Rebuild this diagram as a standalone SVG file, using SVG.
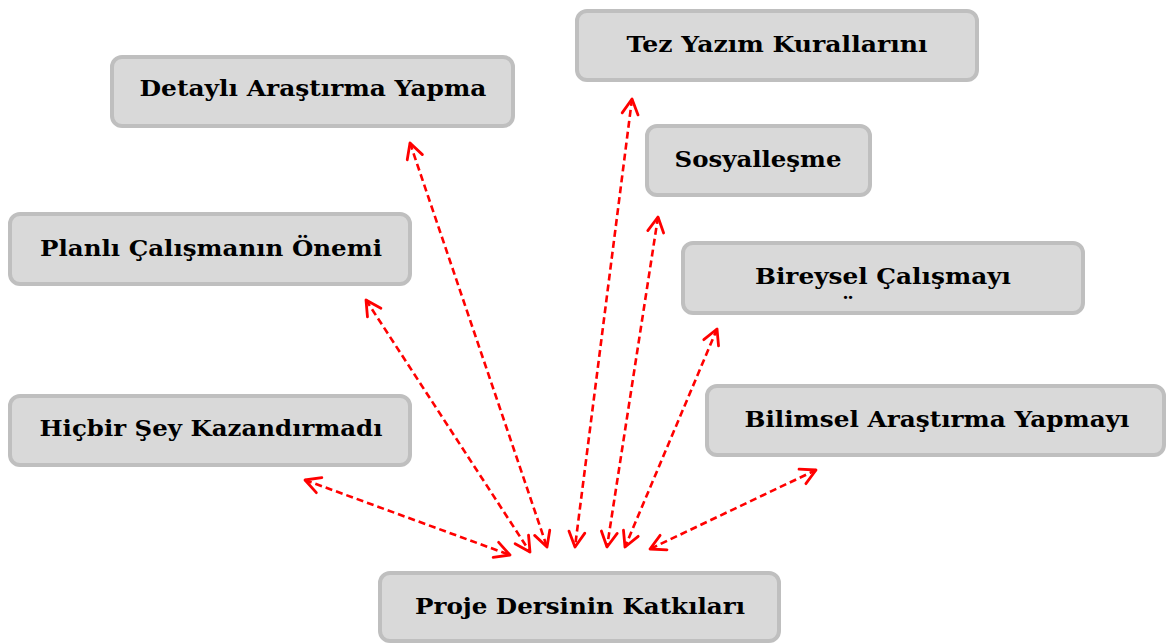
<svg xmlns="http://www.w3.org/2000/svg" width="1166" height="643" viewBox="0 0 1166 643">
<style>
.box{fill:#d9d9d9;stroke:#bfbfbf;stroke-width:4}
.t{font-family:"DejaVu Serif","Liberation Serif",serif;font-weight:bold;font-size:23px;fill:#000;text-anchor:middle}
.c{fill:none;stroke:#ff0000;stroke-width:2.6;stroke-dasharray:7 4}
</style>
<defs>
<marker id="ah" markerUnits="userSpaceOnUse" viewBox="-20 -12 24 24" refX="0" refY="0" markerWidth="24" markerHeight="24" orient="auto-start-reverse">
<path d="M-15,-8 L0,0 L-15,8" fill="none" stroke="#ff0000" stroke-width="2.8" stroke-linecap="round" stroke-linejoin="round"/>
</marker>
<clipPath id="bclip"><rect x="682" y="242" width="402" height="58"/></clipPath>
</defs>
<g id="connectors">
<line class="c" x1="305" y1="480" x2="510" y2="555" marker-start="url(#ah)" marker-end="url(#ah)"/>
<line class="c" x1="366" y1="300" x2="530" y2="552" marker-start="url(#ah)" marker-end="url(#ah)"/>
<line class="c" x1="410" y1="143" x2="547" y2="547" marker-start="url(#ah)" marker-end="url(#ah)"/>
<line class="c" x1="632" y1="99" x2="575" y2="547" marker-start="url(#ah)" marker-end="url(#ah)"/>
<line class="c" x1="658" y1="217" x2="607" y2="547" marker-start="url(#ah)" marker-end="url(#ah)"/>
<line class="c" x1="717" y1="329" x2="625" y2="547" marker-start="url(#ah)" marker-end="url(#ah)"/>
<line class="c" x1="816" y1="470" x2="650" y2="549" marker-start="url(#ah)" marker-end="url(#ah)"/>
</g>
<g id="n-detayli"><rect class="box" x="112" y="57" width="401" height="69" rx="10"/><text class="t" x="313" y="96" textLength="347" lengthAdjust="spacingAndGlyphs">Detaylı Araştırma Yapma</text></g>
<g id="n-tez"><rect class="box" x="577" y="11" width="400" height="69" rx="10"/><text class="t" x="777" y="52" textLength="301" lengthAdjust="spacingAndGlyphs">Tez Yazım Kurallarını</text></g>
<g id="n-sosyal"><rect class="box" x="647" y="126" width="223" height="69" rx="10"/><text class="t" x="758" y="167" textLength="167" lengthAdjust="spacingAndGlyphs">Sosyalleşme</text></g>
<g id="n-planli"><rect class="box" x="10" y="214" width="400" height="70" rx="10"/><text class="t" x="211" y="256" textLength="342" lengthAdjust="spacingAndGlyphs">Planlı Çalışmanın Önemi</text></g>
<g id="n-bireysel"><rect class="box" x="683" y="243" width="400" height="70" rx="10"/><text class="t" x="883" y="284" textLength="256" lengthAdjust="spacingAndGlyphs">Bireysel Çalışmayı</text><text class="t" x="848" y="317" clip-path="url(#bclip)">Ö</text></g>
<g id="n-hicbir"><rect class="box" x="10" y="396" width="400" height="69" rx="10"/><text class="t" x="211" y="436" textLength="343" lengthAdjust="spacingAndGlyphs">Hiçbir Şey Kazandırmadı</text></g>
<g id="n-bilimsel"><rect class="box" x="707" y="386" width="457" height="69" rx="10"/><text class="t" x="937" y="427" textLength="385" lengthAdjust="spacingAndGlyphs">Bilimsel Araştırma Yapmayı</text></g>
<g id="n-proje"><rect class="box" x="380" y="573" width="399" height="68" rx="10"/><text class="t" x="580" y="614" textLength="330" lengthAdjust="spacingAndGlyphs">Proje Dersinin Katkıları</text></g>
</svg>
